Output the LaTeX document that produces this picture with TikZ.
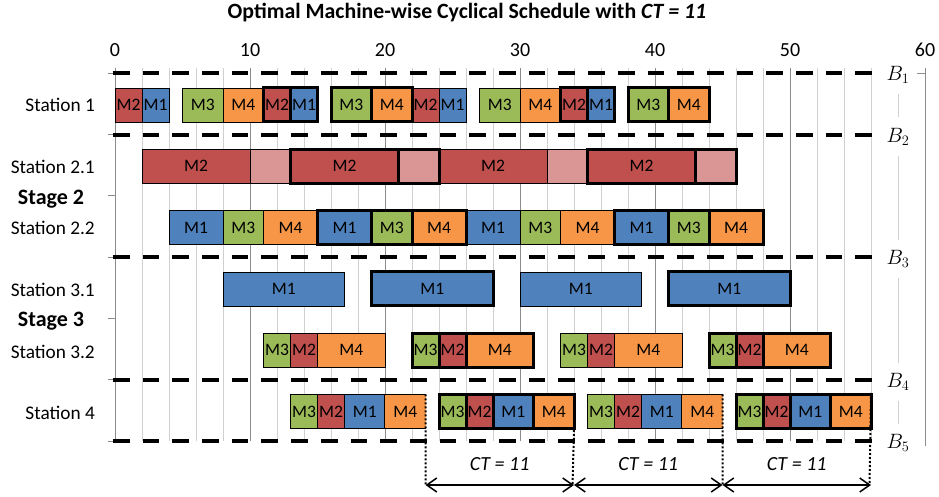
\documentclass[tikz,border=0pt]{standalone}
\usepackage{fontspec}
\setmainfont{Carlito}
\usetikzlibrary{arrows.meta}

\definecolor{colM1}{HTML}{4F81BD}
\definecolor{colM2}{HTML}{C0504D}
\definecolor{colM3}{HTML}{9BBB59}
\definecolor{colM4}{HTML}{F79646}
\definecolor{colIdle}{HTML}{D99694}
\definecolor{gridminor}{HTML}{D0D0D0}
\definecolor{gridmajor}{HTML}{8C8C8C}

% one operation bar: name, start, end, row y, fill colour, text, style
\newcommand\job[7]{%
  \pgfmathsetmacro\jobw{13.5*(#3-#2)}%
  \pgfmathsetmacro\jobx{(#2+#3)/2}%
  \node[#7, fill=#5, minimum width=\jobw pt] (#1) at (\jobx,#4) {#6};}

\tikzset{
  jobbox/.style={draw=black, inner sep=0pt, minimum height=34pt, text=black,
    font=\fontsize{17.5}{20}\selectfont},
  jobplain/.style={jobbox, line width=0.8pt},
  jobbold/.style={jobbox, line width=3pt},
  jobopen/.style={jobbox, draw=none},
  edgeline/.style={line width=0.8pt},
  boundary/.style={line width=4pt, dash pattern=on 16.7pt off 13pt},
  gridmin/.style={gridminor, line width=0.9pt},
  gridmaj/.style={gridmajor, line width=0.9pt},
  axisline/.style={gridmajor, line width=0.9pt},
  cycleguide/.style={line width=2pt, dash pattern=on 2pt off 2pt},
  ctarrow/.style={line width=1.5pt,
    {Straight Barb[length=10pt,width=14pt]}-{Straight Barb[length=10pt,width=14pt]}},
  lbl/.style={font=\fontsize{19.3}{22}\selectfont, inner sep=0pt},
  numlbl/.style={font=\fontsize{20}{22}\selectfont, inner sep=0pt},
  stagelbl/.style={font=\fontsize{22}{24}\selectfont\bfseries, inner sep=0pt},
  blabel/.style={font=\fontsize{20}{24}\selectfont, inner sep=0pt,
    minimum height=38pt, minimum width=24pt},
  ctlbl/.style={font=\fontsize{20}{22}\selectfont\itshape, inner sep=0pt},
}

\begin{document}
\begin{tikzpicture}[x=13.5pt, y=-1pt]
\useasboundingbox (-8.5185,0) rectangle (61.037,497);

% title
\node[font=\fontsize{21.8}{24}\selectfont\bfseries] (title) at (26.07,13)
  {Optimal Machine-wise Cyclical Schedule with \textit{CT = 11}};

% vertical grid
\foreach \g in {2,4,6,8,12,14,16,18,22,24,26,28,32,34,36,38,42,44,46,48,52,54,56}
  {\draw[gridmin] (\g,68) -- (\g,441);}
\foreach \g in {10,20,30,40,50}
  {\draw[gridmaj] (\g,68) -- (\g,441);}
\draw[axisline] (60,68) -- (60,446);
\draw[axisline] (59.4,73.3) -- (60,73.3);

% time axis numbers
\foreach \v in {0,10,20,30,40,50,60}
  {\node[numlbl] (tick\v) at (\v,50) {\v};}

% left axis with row ticks
\draw[axisline] (0,68) -- (0,441);
\foreach \b in {73.3,134.6,195.9,257.2,318.5,379.8,441.1}
  {\draw[axisline] (-0.52,\b) -- (0,\b);}

% row labels
\node[lbl, anchor=east] (st1)  at (-1.48,105)   {Station 1};
\node[lbl, anchor=east] (st21) at (-1.48,167)   {Station 2.1};
\node[stagelbl]         (sg2)  at (-4.74,199)   {Stage 2};
\node[lbl, anchor=east] (st22) at (-1.48,228)   {Station 2.2};
\node[lbl, anchor=east] (st31) at (-1.48,290)   {Station 3.1};
\node[stagelbl]         (sg3)  at (-4.74,321)   {Stage 3};
\node[lbl, anchor=east] (st32) at (-1.48,351.5) {Station 3.2};
\node[lbl, anchor=east] (st4)  at (-1.48,412.5) {Station 4};

% buffer boundaries
\foreach \b in {73.3,134.6,257.2,379.8,441.1}
  {\draw[boundary] (-0.15,\b) -- (56.15,\b);}

% buffer labels and the guide segments between them
\node[blabel] (B1) at (58,75.3)  {$B_1$};
\node[blabel] (B2) at (58,136.6) {$B_2$};
\node[blabel] (B3) at (58,259.2) {$B_3$};
\node[blabel] (B4) at (58,381.8) {$B_4$};
\node[blabel] (B5) at (58,443.1) {$B_5$};
\draw[gridmin] (B1) -- (B2);
\draw[gridmin] (B2) -- (B3);
\draw[gridmin] (B3) -- (B4);
\draw[gridmin] (B4) -- (B5);

% ---------- operations in ordinary cycles ----------
\foreach \s/\e/\c/\t [count=\i] in {0/2/colM2/M2, 2/4/colM1/M1, 5/8/colM3/M3, 8/11/colM4/M4,
    22/24/colM2/M2, 24/26/colM1/M1, 27/30/colM3/M3, 30/33/colM4/M4}
  {\job{s1p\i}{\s}{\e}{105}{\c}{\t}{jobplain}}
\foreach \s/\e/\c/\t [count=\i] in {2/10/colM2/M2, 10/13/colIdle/{}, 24/32/colM2/M2, 32/35/colIdle/{}}
  {\job{s21p\i}{\s}{\e}{166.3}{\c}{\t}{jobplain}}
\foreach \s/\e/\c/\t [count=\i] in {4/8/colM1/M1, 8/11/colM3/M3, 11/15/colM4/M4,
    26/30/colM1/M1, 30/33/colM3/M3, 33/37/colM4/M4}
  {\job{s22p\i}{\s}{\e}{227.6}{\c}{\t}{jobplain}}
\foreach \s/\e/\c/\t [count=\i] in {8/17/colM1/M1, 30/39/colM1/M1}
  {\job{s31p\i}{\s}{\e}{288.9}{\c}{\t}{jobplain}}
\foreach \s/\e/\c/\t [count=\i] in {11/13/colM3/M3, 13/15/colM2/M2, 15/20/colM4/M4,
    33/35/colM3/M3, 35/37/colM2/M2, 37/42/colM4/M4}
  {\job{s32p\i}{\s}{\e}{350.2}{\c}{\t}{jobplain}}
\foreach \s/\e/\c/\t [count=\i] in {13/15/colM3/M3, 15/17/colM2/M2, 17/20/colM1/M1,
    35/37/colM3/M3, 37/39/colM2/M2, 39/42/colM1/M1}
  {\job{s4p\i}{\s}{\e}{411.5}{\c}{\t}{jobplain}}
% last operation at station 4: open right edge
\job{s4endA}{20}{23}{411.5}{colM4}{M4}{jobopen}
\job{s4endC}{42}{45}{411.5}{colM4}{M4}{jobopen}
\draw[edgeline] (s4endA.north east) -- (s4endA.north west) -- (s4endA.south west) -- (s4endA.south east);
\draw[edgeline] (s4endC.north east) -- (s4endC.north west) -- (s4endC.south west) -- (s4endC.south east);

% ---------- operations in highlighted cycles ----------
\foreach \s/\e/\c/\t [count=\i] in {11/13/colM2/M2, 13/15/colM1/M1, 16/19/colM3/M3, 19/22/colM4/M4,
    33/35/colM2/M2, 35/37/colM1/M1, 38/41/colM3/M3, 41/44/colM4/M4}
  {\job{s1b\i}{\s}{\e}{105}{\c}{\t}{jobbold}}
\foreach \s/\e/\c/\t [count=\i] in {13/21/colM2/M2, 21/24/colIdle/{}, 35/43/colM2/M2, 43/46/colIdle/{}}
  {\job{s21b\i}{\s}{\e}{166.3}{\c}{\t}{jobbold}}
\foreach \s/\e/\c/\t [count=\i] in {15/19/colM1/M1, 19/22/colM3/M3, 22/26/colM4/M4,
    37/41/colM1/M1, 41/44/colM3/M3, 44/48/colM4/M4}
  {\job{s22b\i}{\s}{\e}{227.6}{\c}{\t}{jobbold}}
\foreach \s/\e/\c/\t [count=\i] in {19/28/colM1/M1, 41/50/colM1/M1}
  {\job{s31b\i}{\s}{\e}{288.9}{\c}{\t}{jobbold}}
\foreach \s/\e/\c/\t [count=\i] in {22/24/colM3/M3, 24/26/colM2/M2, 26/31/colM4/M4,
    44/46/colM3/M3, 46/48/colM2/M2, 48/53/colM4/M4}
  {\job{s32b\i}{\s}{\e}{350.2}{\c}{\t}{jobbold}}
\foreach \s/\e/\c/\t [count=\i] in {24/26/colM3/M3, 26/28/colM2/M2, 28/31/colM1/M1,
    46/48/colM3/M3, 48/50/colM2/M2, 50/53/colM1/M1}
  {\job{s4b\i}{\s}{\e}{411.5}{\c}{\t}{jobbold}}
\job{s4endB}{31}{34}{411.5}{colM4}{M4}{jobbold}
\job{s4endD}{53}{56}{411.5}{colM4}{M4}{jobbold}

% ---------- cycle time markers ----------
\coordinate (ct0) at (23,485);
\coordinate (ct1) at (34,485);
\coordinate (ct2) at (45,485);
\coordinate (ct3) at (56,485);
\draw[cycleguide] (s4endA.north east) -- (ct0);
\draw[cycleguide] ([xshift=-1.5pt]s4endB.south east) -- ([xshift=-1.5pt]ct1);
\draw[cycleguide] (s4endC.north east) -- (ct2);
\draw[cycleguide] ([xshift=-1.5pt]s4endD.north east) -- ([xshift=-1.5pt]ct3);
\draw[ctarrow] (ct0) -- (ct1);
\draw[ctarrow] (ct1) -- (ct2);
\draw[ctarrow] (ct2) -- (ct3);
\node[ctlbl] (ct01) at (28.5,464) {CT = 11};
\node[ctlbl] (ct12) at (39.5,464) {CT = 11};
\node[ctlbl] (ct23) at (50.5,464) {CT = 11};
\end{tikzpicture}
\end{document}
